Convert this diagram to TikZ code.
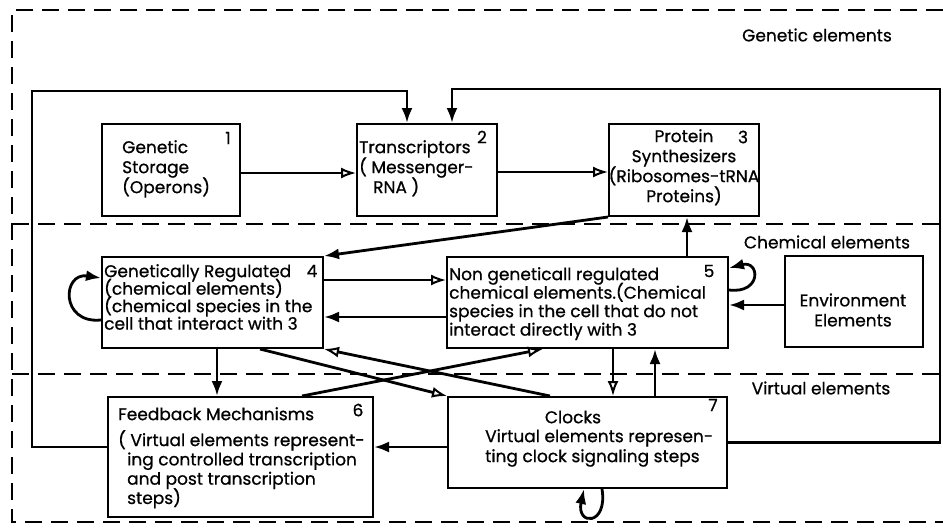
\documentclass[tikz,border=0pt]{standalone}
\usepackage{fontspec}
\setmainfont{Poppins}[FakeBold=0.7]
\usetikzlibrary{arrows.meta}
\begin{document}
\begin{tikzpicture}[x=1pt,y=-1pt,
  box/.style={draw, line width=2pt, inner sep=0pt},
  txt/.style={inner sep=0pt, font={\fontsize{17}{20}\selectfont\lineskiplimit=-20pt}, align=left},
  tightxt/.style={inner sep=0pt, font={\fontsize{17}{17.5}\selectfont\lineskiplimit=-20pt}, align=left},
  conn/.style={line width=2.8pt},
  sepline/.style={line width=2.4pt, dash pattern=on 17pt off 9pt},
  arrF/.style={-{Latex[length=15pt,width=11pt]}},
  arrO/.style={-{Latex[open,length=15pt,width=11pt,line width=2pt]}},
]
\useasboundingbox[fill=white] (0,0) rectangle (943,528);

% dashed frame and level separators
\draw[sepline] (943,10) -- (12,10) -- (12,522) -- (943,522);
\draw[sepline] (12,224) -- (943,224);
\draw[sepline] (12,374) -- (943,374);

% level names
\node[txt, anchor=center] (lgen) at (817,35) {Genetic elements};
\node[txt, anchor=center] (lchem) at (827,242) {Chemical elements};
\node[txt, anchor=center] (lvirt) at (821,388) {Virtual elements};

% boxes
\node[box, minimum width=138pt, minimum height=92pt] (b1) at (171,170) {};
\node[box, minimum width=140pt, minimum height=92pt] (b2) at (427,170) {};
\node[box, minimum width=150pt, minimum height=92pt] (b3) at (684,170) {};
\node[box, minimum width=221pt, minimum height=91pt] (b4) at (212.5,302.5) {};
\node[box, minimum width=281pt, minimum height=91pt] (b5) at (587.5,302.5) {};
\node[box, minimum width=138pt, minimum height=91pt] (env) at (854,301.5) {};
\node[box, minimum width=265pt, minimum height=120pt] (b6) at (240.5,457) {};
\node[box, minimum width=279pt, minimum height=91pt] (b7) at (587.5,442.5) {};

% box texts
\node[txt, anchor=north west] (t1) at (122,140) {Genetic\\Storage\\(Operons)};
\node[txt] (n1) at (228,138) {1};
\node[txt, anchor=north west] (t2) at (359,140) {Transcriptors\\( Messenger-\\\hspace*{14pt}RNA )};
\node[txt] (n2) at (482,137) {2};
\node[txt, anchor=north, align=center] (t3) at (684,129) {Protein\\Synthesizers\\(Ribosomes-tRNA\\Proteins)};
\node[txt] (n3) at (743,137) {3};
\node[tightxt, anchor=north west] (t4) at (104,264) {Genetically Regulated\\(chemical elements)\\(chemical species in the\\cell that interact with 3};
\node[txt] (n4) at (312,271) {4};
\node[tightxt, font={\fontsize{17}{18.5}\selectfont\lineskiplimit=-20pt}, anchor=north west] (t5) at (449,267) {Non geneticall regulated\\chemical elements.(Chemical\\species in the cell that do not\\interact directly with 3};
\node[txt] (n5) at (709,271) {5};
\node[txt, anchor=center, align=center] (tenv) at (853,310) {Environment\\Elements};
\node[txt, anchor=north west] (t6a) at (118,407) {Feedback Mechanisms};
\node[txt] (n6) at (358,410) {6};
\node[txt, font={\fontsize{17}{19.3}\selectfont\lineskiplimit=-20pt}, anchor=north west] (t6) at (118,430) {( Virtual elements represent-\\\hspace*{9pt}ing controlled transcription\\\hspace*{9pt}and post transcription\\\hspace*{9pt}steps)};
\node[txt, anchor=center] (t7a) at (573,417) {Clocks};
\node[txt, anchor=north west] (t7) at (485,429) {Virtual elements represen-\\ting clock signaling steps};
\node[txt] (n7) at (713,405) {7};

% genetic level
\draw[conn, arrO] ([yshift=-3pt]b1.east) -- ([yshift=-3pt]b2.west);
\draw[conn, arrO] ([yshift=-2pt]b2.east) -- ([yshift=-2pt]b3.west);

% feedback loops into the transcriptors
\draw[conn, arrF] ([yshift=10pt]b6.west) -- (32,447) -- (32,91) -| ([xshift=-20pt]b2.north);
\draw[conn, arrF] (b7.east) -- (940,442.5) -- (940,89) -| ([xshift=25pt]b2.north);

% chemical level
\draw[conn, arrF] (b3.south west) -- (b4.north east);
\draw[conn, arrF] (b5.north -| 687,0) -- (b3.south -| 687,0);
\draw[conn, arrO] (b4.east |- 0,280) -- (b5.west |- 0,280);
\draw[conn, arrF] (b5.west |- 0,317) -- (b4.east |- 0,317);
\draw[conn, arrF] (env.west |- 0,305) -- (b5.east |- 0,305);
\draw[conn, arrF] (b4.west |- 0,320) .. controls (60,324) and (62,272) .. (b4.west |- 0,278);
\draw[conn, arrF] (b5.east |- 0,290) .. controls (762,294) and (760,260) .. (b5.east |- 0,268);

% between chemical and virtual levels
\draw[conn, arrF] (b4.south -| 217,0) -- (b6.north -| 217,0);
\draw[conn, arrO] (b5.south -| 613,0) -- (b7.north -| 613,0);
\draw[conn, arrF] (b7.north -| 655,0) -- (b5.south -| 655,0);
\draw[conn, arrO] (b6.north -| 302,0) -- (b5.south -| 543,0);
\draw[conn, arrO] (b4.south -| 260,0) -- (b7.north west);
\draw[conn, arrO] (b7.north -| 550,0) -- (b4.south east);

% virtual level
\draw[conn, arrF] (b7.west |- 0,447) -- (b6.east |- 0,447);
\draw[conn, arrF] (b7.south -| 602,0) .. controls (608,526) and (576,526) .. (b7.south -| 584,0);
\end{tikzpicture}
\end{document}
